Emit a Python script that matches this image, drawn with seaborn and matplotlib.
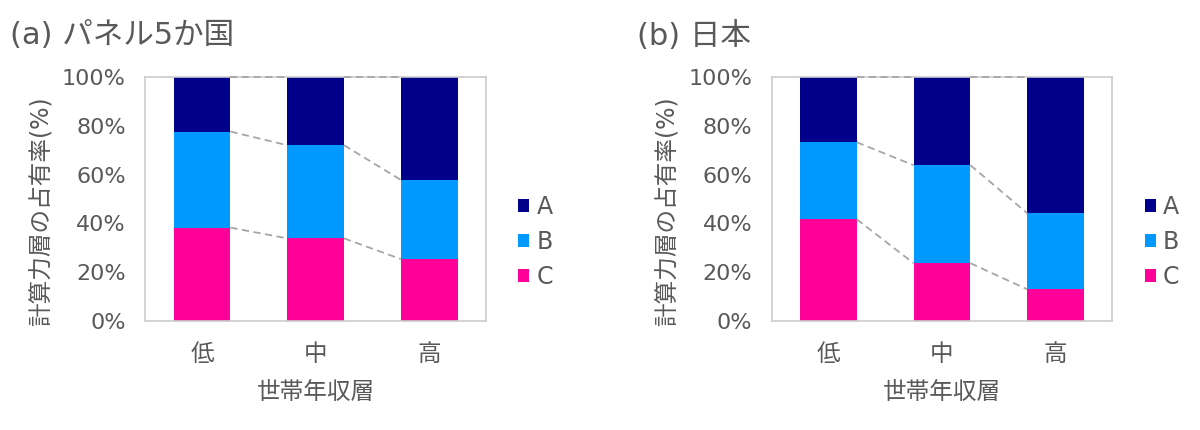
import matplotlib
matplotlib.use('Agg')
import matplotlib.pyplot as plt
import seaborn as sns
import numpy as np
from matplotlib.patches import Patch

# --- data (shares in %) ---
categories = ["低", "中", "高"]
panel_titles = ["(a) パネル5か国", "(b) 日本"]
a_C = [38.3, 33.9, 25.4]
a_B = [39.4, 38.2, 32.5]
a_A = [22.3, 27.9, 42.1]
b_C = [41.7, 23.7, 13.0]
b_B = [31.6, 40.2, 31.2]
b_A = [26.7, 36.1, 55.8]
series_names = ["A", "B", "C"]
colors = {"A": "#00008b", "B": "#0099ff", "C": "#ff0099"}
yticks = [0, 20, 40, 60, 80, 100]

sns.set_style("white")
plt.rcParams['font.family'] = ['DejaVu Sans', 'Noto Sans CJK JP']
TXT = "#595959"

fig = plt.figure(figsize=(12, 4.3), dpi=100)
axes = [fig.add_axes([0.121, 0.2535, 0.284, 0.567]),
        fig.add_axes([0.643, 0.2535, 0.284, 0.567])]

panels = [(a_A, a_B, a_C), (b_A, b_B, b_C)]
for ax, title, (A, B, C) in zip(axes, panel_titles, panels):
    A, B, C = np.array(A), np.array(B), np.array(C)
    lvl_c = C
    lvl_b = C + B
    lvl_a = C + B + A
    # back-to-front cumulative bars
    sns.barplot(x=categories, y=lvl_a, color=colors["A"], width=0.5,
                saturation=1, ax=ax, zorder=2)
    sns.barplot(x=categories, y=lvl_b, color=colors["B"], width=0.5,
                saturation=1, ax=ax, zorder=2)
    sns.barplot(x=categories, y=lvl_c, color=colors["C"], width=0.5,
                saturation=1, ax=ax, zorder=2)
    for p in ax.patches:
        p.set_edgecolor("none")
    # dashed connectors between bars
    for lvl in (lvl_c, lvl_b, lvl_a):
        for i in range(len(categories) - 1):
            ax.plot([i + 0.25, i + 0.75], [lvl[i], lvl[i + 1]],
                    ls=(0, (4, 2.5)), color="#a6a6a6", lw=1.3, zorder=3,
                    clip_on=False)
    ax.set_xlim(-0.5, 2.5)
    ax.set_ylim(0, 100)
    ax.set_yticks(yticks)
    ax.set_yticklabels([f"{v}%" for v in yticks])
    ax.tick_params(axis='y', length=0, labelsize=16, colors=TXT, pad=14)
    ax.tick_params(axis='x', length=0, labelsize=17, colors=TXT, pad=15)
    for s in ax.spines.values():
        s.set_color("#cccccc")
        s.set_linewidth(1.2)
    ax.set_xlabel("世帯年収層", fontsize=17, color=TXT, labelpad=10)
    ax.set_ylabel("計算力層の占有率(%)", fontsize=17, color=TXT)
    ax.yaxis.set_label_coords(-0.27, 0.45)
    ax.text(-0.396, 1.17, title, transform=ax.transAxes, fontsize=22,
            color=TXT, ha='left', va='center')
    handles = [Patch(facecolor=colors[n], edgecolor='none', label=n)
               for n in series_names]
    leg = ax.legend(handles=handles, loc='center left',
                    bbox_to_anchor=(1.095, 0.324), frameon=False, fontsize=17,
                    handlelength=0.47, handleheight=0.47, handletextpad=0.3,
                    labelspacing=0.45, borderpad=0, borderaxespad=0)
    for t in leg.get_texts():
        t.set_color(TXT)

fig.savefig("out.png", dpi=100)
